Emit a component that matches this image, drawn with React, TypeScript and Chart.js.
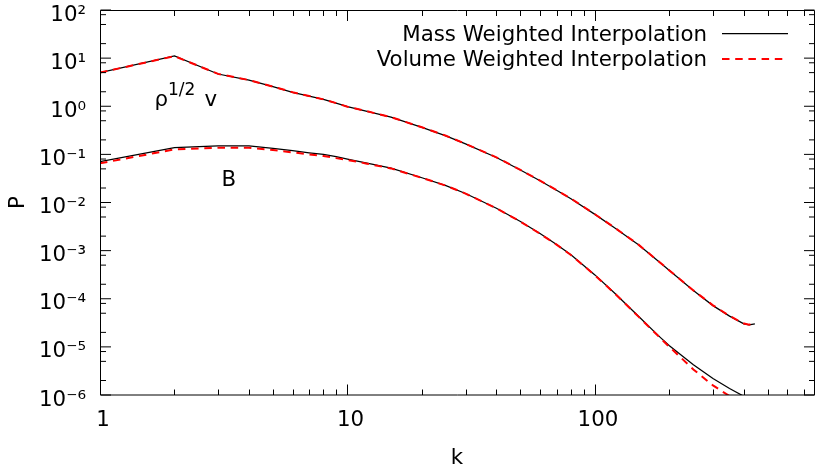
import React, { useEffect, useRef } from 'react';
import { Chart, registerables } from 'chart.js';

Chart.register(...registerables);

// ---- data ----
const kValues = [1, 2, 3, 4, 5, 6, 7, 8, 9, 10, 12, 15, 20, 25, 30, 40, 50, 60, 70, 80, 100, 120, 150, 180, 200, 250, 300, 350, 400, 420, 443];

const vMass = [5.0, 11.1, 4.68, 3.5, 2.55, 1.95, 1.63, 1.39, 1.16, 0.98, 0.784, 0.592, 0.363, 0.243, 0.165, 0.0861, 0.0472, 0.0284, 0.0179, 0.012, 0.00566, 0.00299, 0.00132, 6.07e-4, 3.85e-4, 1.48e-4, 7.2e-5, 4.36e-5, 3.01e-5, 2.85e-5, 3.0e-5];
const vVolume = [5.0, 11.0, 4.7, 3.5, 2.56, 1.96, 1.63, 1.39, 1.16, 0.98, 0.786, 0.594, 0.365, 0.244, 0.166, 0.0866, 0.0475, 0.0286, 0.018, 0.0121, 0.0057, 0.00301, 0.00133, 6.1e-4, 3.88e-4, 1.49e-4, 7.3e-5, 4.4e-5, 3.05e-5, 2.9e-5, 3.1e-5];
const bMass = [0.0705, 0.138, 0.151, 0.151, 0.134, 0.119, 0.108, 0.100, 0.0895, 0.0795, 0.0658, 0.0519, 0.0327, 0.0225, 0.01535, 0.00759, 0.00402, 0.00226, 0.00134, 8.18e-4, 3.13e-4, 1.32e-4, 4.32e-5, 1.73e-5, 1.06e-5, 4.24e-6, 2.2e-6, 1.36e-6, 9.4e-7, 8.2e-7, 7.2e-7];
const bVolume = [0.0652, 0.127, 0.138, 0.138, 0.123, 0.110, 0.100, 0.0925, 0.0836, 0.0766, 0.0641, 0.0511, 0.0325, 0.0224, 0.01532, 0.00757, 0.004, 0.00224, 0.00133, 8.1e-4, 3.08e-4, 1.3e-4, 4.25e-5, 1.7e-5, 1.0e-5, 3.4e-6, 1.58e-6, 9.5e-7, 5.6e-7, 4.8e-7, 4.0e-7];

const legendLabels = ['Mass Weighted Interpolation', 'Volume Weighted Interpolation'];
const xTitle = 'k';
const yTitle = 'P';

const xMin = 1;
const xMax = 768;
const yMin = 1e-6;
const yMax = 1e2;

const xMajorTicks = [1, 10, 100];
const xTickLabels = ['1', '10', '100'];
const xMinorTicks = [2, 3, 4, 5, 6, 7, 8, 9, 20, 30, 40, 50, 60, 70, 80, 90, 200, 300, 400, 500, 600, 700];

const yMajorTicks = [1e-6, 1e-5, 1e-4, 1e-3, 1e-2, 1e-1, 1e0, 1e1, 1e2];
const yTickLabels = ['10⁻⁶', '10⁻⁵', '10⁻⁴', '10⁻³', '10⁻²', '10⁻¹', '10⁰', '10¹', '10²'];
const yMinorTicks = [2e-6, 5e-6, 8e-6, 2e-5, 5e-5, 8e-5, 2e-4, 5e-4, 8e-4, 2e-3, 5e-3, 8e-3, 2e-2, 5e-2, 8e-2, 2e-1, 5e-1, 8e-1, 2, 5, 8, 20, 50, 80];

// curve labels (anchored in data coordinates)
const rhoLabel = { k: 1.66, p: 1.01, base: 'ρ', sup: '1/2', tail: 'v' };
const bLabel = { k: 3.1, p: 0.022, text: 'B' };

const FONT = '"DejaVu Sans", sans-serif';
const FS = 21.33;

function toPoints(xs: number[], ys: number[]) {
  return xs.map((x, i) => ({ x, y: ys[i] }));
}

export default function App() {
  const ref = useRef<HTMLCanvasElement>(null);

  useEffect(() => {
    const canvas = ref.current;
    if (!canvas) return;

    const framePlugin = {
      id: 'gnuFrame',
      afterDatasetsDraw(chart: any) {
        const { ctx, chartArea: a, scales } = chart;
        const xs = scales.x;
        const ys = scales.y;
        ctx.save();
        ctx.strokeStyle = '#000';
        ctx.lineWidth = 1;
        ctx.setLineDash([]);
        const L = a.left + 0.5;
        const R = a.right + 0.5;
        const T = a.top + 0.5;
        const B = a.bottom;
        ctx.beginPath();
        ctx.moveTo(L, T);
        ctx.lineTo(R, T);
        ctx.lineTo(R, B);
        ctx.lineTo(L, B);
        ctx.closePath();
        ctx.stroke();

        const drawX = (vals: number[], len: number) => {
          vals.forEach((v) => {
            const px = Math.round(xs.getPixelForValue(v)) + 0.5;
            ctx.beginPath();
            ctx.moveTo(px, B);
            ctx.lineTo(px, B - len);
            ctx.moveTo(px, T);
            ctx.lineTo(px, T + len);
            ctx.stroke();
          });
        };
        const drawY = (vals: number[], len: number) => {
          vals.forEach((v) => {
            const py = ys.getPixelForValue(v);
            ctx.beginPath();
            ctx.moveTo(L, py);
            ctx.lineTo(L + len, py);
            ctx.moveTo(R, py);
            ctx.lineTo(R - len, py);
            ctx.stroke();
          });
        };
        drawX(xMajorTicks, 10.5);
        drawX(xMinorTicks, 5.5);
        drawY(yMajorTicks, 10.5);
        drawY(yMinorTicks, 5.5);
        ctx.restore();
      },
    };

    const textPlugin = {
      id: 'gnuText',
      afterDraw(chart: any) {
        const { ctx, chartArea: a, scales } = chart;
        const xs = scales.x;
        const ys = scales.y;
        ctx.save();
        ctx.fillStyle = '#000';
        ctx.textBaseline = 'alphabetic';

        // curve label rho^{1/2} v
        let x = xs.getPixelForValue(rhoLabel.k);
        const y = ys.getPixelForValue(rhoLabel.p);
        ctx.textAlign = 'left';
        ctx.font = `${FS}px ${FONT}`;
        ctx.fillText(rhoLabel.base, x, y);
        x += ctx.measureText(rhoLabel.base).width;
        ctx.font = `${FS * 0.8}px ${FONT}`;
        ctx.fillText(rhoLabel.sup, x, y - 11);
        x += ctx.measureText(rhoLabel.sup).width;
        ctx.font = `${FS}px ${FONT}`;
        ctx.fillText(rhoLabel.tail, x + 9, y);

        // curve label B
        ctx.fillText(bLabel.text, xs.getPixelForValue(bLabel.k), ys.getPixelForValue(bLabel.p));

        // legend (gnuplot style: text right, sample on the right)
        ctx.textAlign = 'right';
        const tx = a.right - 107;
        ctx.fillText(legendLabels[0], tx, a.top + 31);
        ctx.fillText(legendLabels[1], tx, a.top + 56);

        ctx.beginPath();
        ctx.strokeStyle = '#000';
        ctx.lineWidth = 1.25;
        ctx.setLineDash([]);
        ctx.moveTo(a.right - 92, a.top + 23.5);
        ctx.lineTo(a.right - 26, a.top + 23.5);
        ctx.stroke();

        ctx.beginPath();
        ctx.strokeStyle = '#ff0000';
        ctx.lineWidth = 2;
        ctx.setLineDash([7.5, 5.7]);
        ctx.moveTo(a.right - 92, a.top + 49);
        ctx.lineTo(a.right - 26, a.top + 49);
        ctx.stroke();
        ctx.restore();
      },
    };

    const tickFont = { family: FONT, size: FS };

    const chart = new Chart(canvas, {
      type: 'line',
      data: {
        datasets: [
          {
            label: legendLabels[1],
            data: toPoints(kValues, vVolume),
            borderColor: '#ff0000',
            borderWidth: 2,
            borderDash: [7.5, 5.7],
            pointRadius: 0,
            fill: false,
            order: 0,
          },
          {
            label: legendLabels[1],
            data: toPoints(kValues, bVolume),
            borderColor: '#ff0000',
            borderWidth: 2,
            borderDash: [7.5, 5.7],
            pointRadius: 0,
            fill: false,
            order: 0,
          },
          {
            label: legendLabels[0],
            data: toPoints(kValues, vMass),
            borderColor: '#000000',
            borderWidth: 1.25,
            pointRadius: 0,
            fill: false,
            order: 1,
          },
          {
            label: legendLabels[0],
            data: toPoints(kValues, bMass),
            borderColor: '#000000',
            borderWidth: 1.25,
            pointRadius: 0,
            fill: false,
            order: 1,
          },
        ],
      },
      options: {
        responsive: false,
        animation: false,
        devicePixelRatio: 1,
        layout: { padding: { left: 0, right: 16, top: 10, bottom: 0 } },
        elements: { line: { tension: 0 } },
        plugins: {
          legend: { display: false },
          tooltip: { enabled: false },
        },
        scales: {
          x: {
            type: 'logarithmic',
            position: 'bottom',
            min: xMin,
            max: xMax,
            grid: { display: false, drawTicks: false },
            border: { display: false },
            afterBuildTicks: (s: any) => {
              s.ticks = xMajorTicks.map((v) => ({ value: v }));
            },
            ticks: {
              autoSkip: false,
              maxRotation: 0,
              minRotation: 0,
              padding: 13,
              labelOffset: 3,
              color: '#000',
              font: tickFont,
              callback: (val: any, i: number) => {
                const idx = xMajorTicks.indexOf(Number(val));
                return idx >= 0 ? xTickLabels[idx] : xTickLabels[i] ?? '';
              },
            },
            title: {
              display: true,
              text: xTitle,
              color: '#000',
              font: tickFont,
              padding: { top: 0, bottom: 4 },
            },
            afterFit: (s: any) => {
              s.height = 80;
              s.paddingLeft = 0;
              s.paddingRight = 0;
            },
          },
          y: {
            type: 'logarithmic',
            position: 'left',
            min: yMin,
            max: yMax,
            grid: { display: false, drawTicks: false },
            border: { display: false },
            afterBuildTicks: (s: any) => {
              s.ticks = yMajorTicks.map((v) => ({ value: v }));
            },
            ticks: {
              autoSkip: false,
              padding: 14,
              labelOffset: 5,
              color: '#000',
              font: tickFont,
              callback: (val: any, i: number) => {
                const v = Number(val);
                const idx = yMajorTicks.findIndex((m) => Math.abs(Math.log10(m) - Math.log10(v)) < 1e-6);
                return idx >= 0 ? yTickLabels[idx] : yTickLabels[i] ?? '';
              },
            },
            title: {
              display: true,
              text: yTitle,
              color: '#000',
              font: tickFont,
              padding: { top: 6, bottom: 0 },
            },
            afterFit: (s: any) => {
              s.width = 100;
              s.paddingTop = 0;
              s.paddingBottom = 0;
            },
          },
        },
      },
      plugins: [framePlugin, textPlugin],
    } as any);

    return () => {
      chart.destroy();
    };
  }, []);

  return (
    <div style={{ position: 'absolute', left: 0, top: 0, width: 830, height: 475, background: '#fff' }}>
      <canvas ref={ref} width={830} height={475} style={{ display: 'block', width: 830, height: 475 }} />
    </div>
  );
}
